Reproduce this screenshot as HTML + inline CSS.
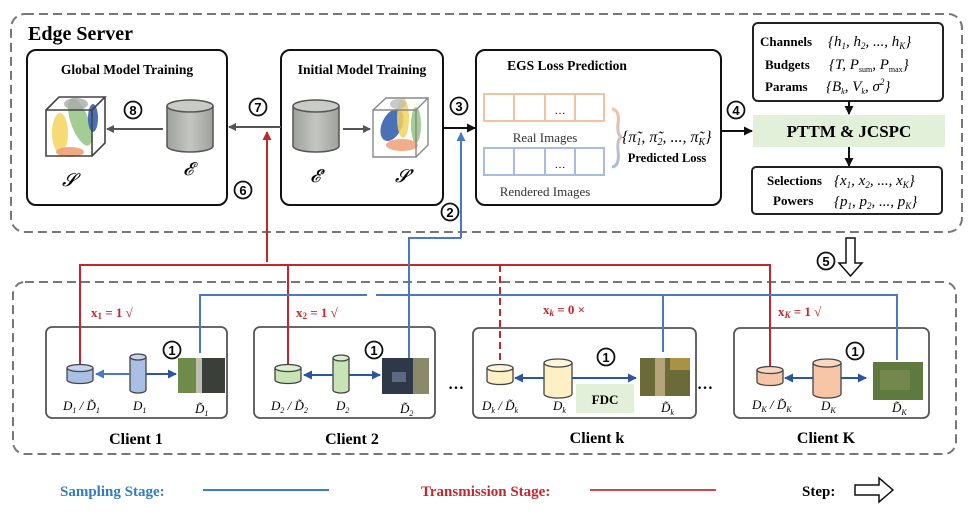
<!DOCTYPE html>
<html><head><meta charset="utf-8"><style>
html,body{margin:0;padding:0;background:#fff;}
svg{display:block;font-family:"Liberation Serif",serif;}
.b{font-weight:bold;}
</style></head><body>
<svg width="976" height="515" viewBox="0 0 976 515" xmlns="http://www.w3.org/2000/svg">
<defs>
<marker id="ag" markerWidth="8" markerHeight="8" refX="7" refY="4" orient="auto" markerUnits="userSpaceOnUse"><path d="M0,0 L8,4 L0,8 z" fill="#555"/></marker>
<marker id="ak" markerWidth="9" markerHeight="9" refX="8" refY="4.5" orient="auto" markerUnits="userSpaceOnUse"><path d="M0,0 L9,4.5 L0,9 z" fill="#111"/></marker>
<marker id="ar" markerWidth="9" markerHeight="9" refX="8" refY="4.5" orient="auto" markerUnits="userSpaceOnUse"><path d="M0,0 L9,4.5 L0,9 z" fill="#c0282d"/></marker>
<marker id="ab" markerWidth="9" markerHeight="9" refX="8" refY="4.5" orient="auto" markerUnits="userSpaceOnUse"><path d="M0,0 L9,4.5 L0,9 z" fill="#4a78c2"/></marker>
<marker id="ad" markerWidth="9" markerHeight="9" refX="8" refY="4.5" orient="auto" markerUnits="userSpaceOnUse"><path d="M0,0 L9,4.5 L0,9 z" fill="#2b55a0"/></marker>
<linearGradient id="gc" x1="0" y1="0" x2="1" y2="0"><stop offset="0" stop-color="#9ea19c"/><stop offset="0.5" stop-color="#c4c6c1"/><stop offset="1" stop-color="#9ea19c"/></linearGradient>
<linearGradient id="br" x1="0" y1="0" x2="0" y2="1"><stop offset="0" stop-color="#f2c3a2"/><stop offset="1" stop-color="#a8bce0"/></linearGradient>
</defs>

<rect x="11" y="14" width="951" height="218" rx="14" fill="none" stroke="#777" stroke-width="2" stroke-dasharray="9,5"/>
<text x="28" y="40" font-size="20" class="b">Edge Server</text>

<rect x="27" y="50" width="200" height="155" rx="9" fill="none" stroke="#111" stroke-width="2"/>
<text x="127" y="74" font-size="13.5" class="b" text-anchor="middle">Global Model Training</text>
<rect x="281" y="50" width="162" height="155" rx="9" fill="none" stroke="#111" stroke-width="2"/>
<text x="362" y="74" font-size="13.5" class="b" text-anchor="middle">Initial Model Training</text>
<rect x="476" y="50" width="245" height="155" rx="9" fill="none" stroke="#111" stroke-width="2"/>
<text x="567" y="70" font-size="13.5" class="b" text-anchor="middle">EGS Loss Prediction</text>

<g>
<ellipse cx="60" cy="133" rx="8" ry="20" fill="#f4d35e" opacity="0.85"/>
<ellipse cx="80" cy="122" rx="9" ry="25" fill="#8dc07a" opacity="0.8" transform="rotate(-20 80 122)"/>
<ellipse cx="93" cy="118" rx="5" ry="14" fill="#2a57a8" opacity="0.85"/>
<ellipse cx="76" cy="104" rx="12" ry="6" fill="#aaa" opacity="0.8"/>
<ellipse cx="70" cy="152" rx="14" ry="5" fill="#ef9a6e" opacity="0.85"/>
<path d="M46,110 L92,110 L92,156 L46,156 Z M46,110 L59,97 L105,97 L92,110 M105,97 L105,143 L92,156" fill="none" stroke="#444" stroke-width="1.6"/>
</g>
<text x="62" y="186" font-size="18" font-style="italic">𝓢</text>
<g>
<ellipse cx="392" cy="125" rx="10" ry="17" fill="#2a57a8" opacity="0.85" transform="rotate(25 392 125)"/>
<ellipse cx="403" cy="118" rx="6" ry="20" fill="#f4d35e" opacity="0.85"/>
<ellipse cx="416" cy="125" rx="5" ry="18" fill="#8dc07a" opacity="0.8"/>
<ellipse cx="398" cy="104" rx="8" ry="5" fill="#bbb" opacity="0.8"/>
<ellipse cx="402" cy="145" rx="16" ry="6" fill="#ef9a6e" opacity="0.8"/>
<path d="M373,110 L416,110 L416,157 L373,157 Z M373,110 L386,98 L428,98 L416,110 M428,98 L428,145 L416,157" fill="none" stroke="#888" stroke-width="1.4"/>
</g>
<text x="395" y="182" font-size="18" font-style="italic">𝓢′</text>
<g stroke="#555" stroke-width="1.5">
<path d="M167,106 L167,146 A23,6 0 0 0 213,146 L213,106" fill="url(#gc)"/>
<ellipse cx="190" cy="106" rx="23" ry="6" fill="#c9cbc6"/>
<path d="M293,106 L293,146 A23,6 0 0 0 339,146 L339,106" fill="url(#gc)"/>
<ellipse cx="316" cy="106" rx="23" ry="6" fill="#c9cbc6"/>
</g>
<text x="183" y="175" font-size="18" font-style="italic">𝓔</text>
<text x="310" y="182" font-size="18" font-style="italic">𝓔′</text>

<line x1="163" y1="129" x2="107" y2="129" stroke="#555" stroke-width="2" marker-end="url(#ag)"/>
<line x1="343" y1="129" x2="370" y2="129" stroke="#555" stroke-width="2" marker-end="url(#ag)"/>
<line x1="281" y1="127" x2="229" y2="127" stroke="#555" stroke-width="2" marker-end="url(#ag)"/>
<line x1="443" y1="128" x2="475" y2="128" stroke="#111" stroke-width="2" marker-end="url(#ak)"/>
<line x1="721" y1="131" x2="752" y2="131" stroke="#111" stroke-width="2" marker-end="url(#ak)"/>

<g fill="none" stroke="#f2c3a2" stroke-width="2">
<rect x="484" y="94" width="120" height="27"/><line x1="514" y1="94" x2="514" y2="121"/><line x1="545" y1="94" x2="545" y2="121"/><line x1="575" y1="94" x2="575" y2="121"/>
</g>
<g fill="none" stroke="#a8bce0" stroke-width="2">
<rect x="484" y="148" width="120" height="27"/><line x1="514" y1="148" x2="514" y2="175"/><line x1="545" y1="148" x2="545" y2="175"/><line x1="575" y1="148" x2="575" y2="175"/>
</g>
<text x="560" y="114" font-size="11" text-anchor="middle">…</text>
<text x="560" y="168" font-size="11" text-anchor="middle">…</text>
<text x="545" y="142" font-size="13" text-anchor="middle" fill="#333">Real Images</text>
<text x="545" y="196" font-size="13" text-anchor="middle" fill="#333">Rendered Images</text>
<path d="M612,109 Q620,110 618,124 Q617,136 622,137 Q617,138 618,150 Q620,166 612,167" fill="none" stroke="url(#br)" stroke-width="3"/>
<text x="622" y="142" font-size="16" font-style="italic">{π̃<tspan font-size="10" dy="3">1</tspan><tspan dy="-3">, π̃</tspan><tspan font-size="10" dy="3">2</tspan><tspan dy="-3">, ..., π̃</tspan><tspan font-size="10" dy="3">K</tspan><tspan dy="-3">}</tspan></text>
<text x="667" y="162" font-size="12.5" class="b" text-anchor="middle">Predicted Loss</text>

<rect x="753" y="23" width="190" height="78" rx="5" fill="none" stroke="#222" stroke-width="2"/>
<text x="760" y="46" font-size="13" class="b">Channels</text>
<text x="828" y="46" font-size="15" font-style="italic">{h<tspan font-size="9" dy="3">1</tspan><tspan dy="-3">, h</tspan><tspan font-size="9" dy="3">2</tspan><tspan dy="-3">, ..., h</tspan><tspan font-size="9" dy="3">K</tspan><tspan dy="-3">}</tspan></text>
<text x="765" y="69" font-size="13" class="b">Budgets</text>
<text x="829" y="69" font-size="15" font-style="italic">{T, P<tspan font-size="8" dy="3" font-style="normal">sum</tspan><tspan dy="-3">, P</tspan><tspan font-size="8" dy="3" font-style="normal">max</tspan><tspan dy="-3">}</tspan></text>
<text x="765" y="91" font-size="13" class="b">Params</text>
<text x="826" y="91" font-size="15" font-style="italic">{B<tspan font-size="8" dy="3">k</tspan><tspan dy="-3">, V</tspan><tspan font-size="8" dy="3">k</tspan><tspan dy="-3">, σ</tspan><tspan font-size="9" dy="-6">2</tspan><tspan dy="6">}</tspan></text>
<line x1="849" y1="101" x2="849" y2="114" stroke="#111" stroke-width="2" marker-end="url(#ak)"/>
<rect x="753" y="115" width="192" height="32" fill="#e2efd9"/>
<text x="849" y="137" font-size="17" class="b" text-anchor="middle">PTTM &amp; JCSPC</text>
<line x1="849" y1="147" x2="849" y2="166" stroke="#111" stroke-width="2" marker-end="url(#ak)"/>
<rect x="752" y="167" width="190" height="47" rx="4" fill="none" stroke="#222" stroke-width="2"/>
<text x="767" y="185" font-size="13" class="b">Selections</text>
<text x="834" y="185" font-size="15" font-style="italic">{x<tspan font-size="9" dy="3">1</tspan><tspan dy="-3">, x</tspan><tspan font-size="9" dy="3">2</tspan><tspan dy="-3">, ..., x</tspan><tspan font-size="9" dy="3">K</tspan><tspan dy="-3">}</tspan></text>
<text x="773" y="205" font-size="13" class="b">Powers</text>
<text x="834" y="206" font-size="15" font-style="italic">{p<tspan font-size="9" dy="3">1</tspan><tspan dy="-3">, p</tspan><tspan font-size="9" dy="3">2</tspan><tspan dy="-3">, ..., p</tspan><tspan font-size="9" dy="3">K</tspan><tspan dy="-3">}</tspan></text>

<g font-size="13" class="b" text-anchor="middle" font-family="Liberation Sans,sans-serif">
<circle cx="133" cy="110" r="8.5" fill="#fff" stroke="#111" stroke-width="1.8"/><text x="133" y="115">8</text>
<circle cx="258" cy="107" r="8.5" fill="#fff" stroke="#111" stroke-width="1.8"/><text x="258" y="112">7</text>
<circle cx="243" cy="190" r="8.5" fill="#fff" stroke="#111" stroke-width="1.8"/><text x="243" y="195">6</text>
<circle cx="459" cy="106" r="8.5" fill="#fff" stroke="#111" stroke-width="1.8"/><text x="459" y="111">3</text>
<circle cx="450" cy="212" r="8.5" fill="#fff" stroke="#111" stroke-width="1.8"/><text x="450" y="217">2</text>
<circle cx="736" cy="110" r="8.5" fill="#fff" stroke="#111" stroke-width="1.8"/><text x="736" y="115">4</text>
<circle cx="826" cy="261" r="8.5" fill="#fff" stroke="#111" stroke-width="1.8"/><text x="826" y="266">5</text>
<circle cx="172" cy="350" r="8.5" fill="#fff" stroke="#111" stroke-width="1.8"/><text x="172" y="355">1</text>
<circle cx="374" cy="350" r="8.5" fill="#fff" stroke="#111" stroke-width="1.8"/><text x="374" y="355">1</text>
<circle cx="606" cy="357" r="8.5" fill="#fff" stroke="#111" stroke-width="1.8"/><text x="606" y="362">1</text>
<circle cx="855" cy="351" r="8.5" fill="#fff" stroke="#111" stroke-width="1.8"/><text x="855" y="356">1</text>
</g>
<path d="M846,238 L855,238 L855,263 L862,263 L850.5,276 L839,263 L846,263 Z" fill="#fff" stroke="#111" stroke-width="1.5"/>

<rect x="13" y="282" width="943" height="172" rx="12" fill="none" stroke="#777" stroke-width="2" stroke-dasharray="9,5"/>

<g fill="none" stroke="#555" stroke-width="1.8">
<rect x="46" y="327" width="181" height="91" rx="6"/>
<rect x="254" y="327" width="181" height="91" rx="6"/>
<rect x="473" y="328" width="223" height="90" rx="6"/>
<rect x="734" y="328" width="195" height="90" rx="6"/>
</g>
<g font-size="16" class="b" text-anchor="middle">
<text x="136" y="444">Client 1</text><text x="352" y="444">Client 2</text><text x="597" y="443">Client k</text><text x="826" y="443">Client K</text>
</g>
<text x="448" y="389" font-size="16" class="b">…</text>
<text x="697" y="389" font-size="16" class="b">…</text>

<g fill="none" stroke-width="2">
<path d="M267,262 L267,132" stroke="#c0282d" marker-end="url(#ar)"/>
<path d="M80,367 L80,265 L770,265 L770,369" stroke="#c0282d"/>
<path d="M288,367 L288,265" stroke="#c0282d"/>
<path d="M500,265 L500,366" stroke="#c0282d" stroke-dasharray="7,4"/>
<path d="M461,238 L461,133" stroke="#4a78c2" marker-end="url(#ab)"/>
<path d="M461,238 L409,238 L409,358" stroke="#4a78c2"/>
<path d="M200,353 L200,295 L367,295 M376,295 L897,295 L897,360" stroke="#4a78c2"/>
<path d="M663,295 L663,352" stroke="#4a78c2"/>
</g>
<g font-size="13" class="b" fill="#c0282d">
<text x="91" y="317">x<tspan font-size="9" dy="2">1</tspan><tspan dy="-2"> = 1   √</tspan></text>
<text x="296" y="317">x<tspan font-size="9" dy="2">2</tspan><tspan dy="-2"> = 1   √</tspan></text>
<text x="543" y="314">x<tspan font-size="9" dy="2" font-style="italic">k</tspan><tspan dy="-2"> = 0   ×</tspan></text>
<text x="778" y="316">x<tspan font-size="9" dy="2" font-style="italic">K</tspan><tspan dy="-2"> = 1   √</tspan></text>
</g>

<g stroke="#444" stroke-width="1.3">
<path d="M67,368 L67,380 A13,3.5 0 0 0 93,380 L93,368" fill="#a9c0e4"/><ellipse cx="80" cy="368" rx="13" ry="3.5" fill="#c5d5ef"/>
<path d="M130,357 L130,390 A8,3 0 0 0 146,390 L146,357" fill="#a9c0e4"/><ellipse cx="138" cy="357" rx="8" ry="3" fill="#c5d5ef"/>
<path d="M275,368 L275,380 A13,3.5 0 0 0 301,380 L301,368" fill="#c8e3b4"/><ellipse cx="288" cy="368" rx="13" ry="3.5" fill="#dcefcf"/>
<path d="M333,358 L333,390 A8,3 0 0 0 349,390 L349,358" fill="#c8e3b4"/><ellipse cx="341" cy="358" rx="8" ry="3" fill="#dcefcf"/>
<path d="M487,368 L487,381 A13,3.5 0 0 0 513,381 L513,368" fill="#fdf0c4"/><ellipse cx="500" cy="368" rx="13" ry="3.5" fill="#fef7dd"/>
<path d="M544,363 L544,394 A14,4 0 0 0 572,394 L572,363" fill="#fdf0c4"/><ellipse cx="558" cy="363" rx="14" ry="4" fill="#fef7dd"/>
<path d="M757,370 L757,382 A13,3.5 0 0 0 783,382 L783,370" fill="#f6c6a6"/><ellipse cx="770" cy="370" rx="13" ry="3.5" fill="#f9d8c2"/>
<path d="M813,363 L813,394 A14,4 0 0 0 841,394 L841,363" fill="#f6c6a6"/><ellipse cx="827" cy="363" rx="14" ry="4" fill="#f9d8c2"/>
</g>
<rect x="178" y="358" width="47" height="35" fill="#6f8b4a"/><rect x="202" y="358" width="23" height="35" fill="#3a3f3a"/><rect x="196" y="358" width="6" height="35" fill="#bdbdb0"/>
<rect x="382" y="358" width="47" height="36" fill="#2f3848"/><rect x="413" y="358" width="16" height="36" fill="#8a8a6a"/><rect x="392" y="372" width="14" height="10" fill="#7b8aa8" opacity="0.6"/>
<rect x="640" y="358" width="50" height="38" fill="#6b6b3a"/><rect x="655" y="358" width="10" height="38" fill="#b8a47a"/><rect x="670" y="358" width="20" height="12" fill="#c4a24a" opacity="0.7"/>
<rect x="873" y="362" width="50" height="38" fill="#5f7a3e"/><rect x="880" y="370" width="30" height="20" fill="#7e8f56" opacity="0.7"/>
<rect x="576" y="384" width="58" height="29" fill="#e2efd9"/>
<text x="605" y="404" font-size="13" class="b" text-anchor="middle">FDC</text>

<g stroke-width="2" fill="none">
<line x1="130" y1="374" x2="96" y2="374" stroke="#4a78c2" marker-end="url(#ab)"/>
<line x1="146" y1="374" x2="176" y2="374" stroke="#2b55a0" marker-end="url(#ad)"/>
<line x1="333" y1="375" x2="304" y2="375" stroke="#2b55a0" marker-end="url(#ad)"/>
<line x1="349" y1="375" x2="380" y2="375" stroke="#2b55a0" marker-end="url(#ad)"/>
<line x1="544" y1="378" x2="515" y2="378" stroke="#2b55a0" marker-end="url(#ad)"/>
<line x1="572" y1="378" x2="636" y2="378" stroke="#2b55a0" marker-end="url(#ad)"/>
<line x1="813" y1="378" x2="785" y2="378" stroke="#2b55a0" marker-end="url(#ad)"/>
<line x1="841" y1="378" x2="866" y2="378" stroke="#2b55a0" marker-end="url(#ad)"/>
</g>
<g font-size="13" font-style="italic">
<text x="63" y="410">D<tspan font-size="8" dy="3">1</tspan><tspan dy="-3"> / D̃</tspan><tspan font-size="8" dy="3">1</tspan></text>
<text x="133" y="410">D<tspan font-size="8" dy="3">1</tspan></text>
<text x="195" y="413">D̃<tspan font-size="8" dy="3">1</tspan></text>
<text x="271" y="410">D<tspan font-size="8" dy="3">2</tspan><tspan dy="-3"> / D̃</tspan><tspan font-size="8" dy="3">2</tspan></text>
<text x="336" y="410">D<tspan font-size="8" dy="3">2</tspan></text>
<text x="400" y="413">D̃<tspan font-size="8" dy="3">2</tspan></text>
<text x="482" y="410">D<tspan font-size="8" dy="3">k</tspan><tspan dy="-3"> / D̃</tspan><tspan font-size="8" dy="3">k</tspan></text>
<text x="553" y="410">D<tspan font-size="8" dy="3">k</tspan></text>
<text x="661" y="412">D̃<tspan font-size="8" dy="3">k</tspan></text>
<text x="752" y="409">D<tspan font-size="8" dy="3">K</tspan><tspan dy="-3"> / D̃</tspan><tspan font-size="8" dy="3">K</tspan></text>
<text x="821" y="410">D<tspan font-size="8" dy="3">K</tspan></text>
<text x="892" y="412">D̃<tspan font-size="8" dy="3">K</tspan></text>
</g>

<text x="60" y="496" font-size="15" class="b" fill="#2f7dc0">Sampling Stage:</text>
<line x1="203" y1="490" x2="329" y2="490" stroke="#3a80c4" stroke-width="2"/>
<text x="421" y="496" font-size="15" class="b" fill="#c0282d">Transmission Stage:</text>
<line x1="590" y1="490" x2="716" y2="490" stroke="#c84a4a" stroke-width="2"/>
<text x="802" y="496" font-size="15" class="b">Step:</text>
<path d="M855,485 L879,485 L879,478 L893,490 L879,502 L879,495 L855,495 Z" fill="#fff" stroke="#111" stroke-width="1.5"/>
</svg>
</body></html>
